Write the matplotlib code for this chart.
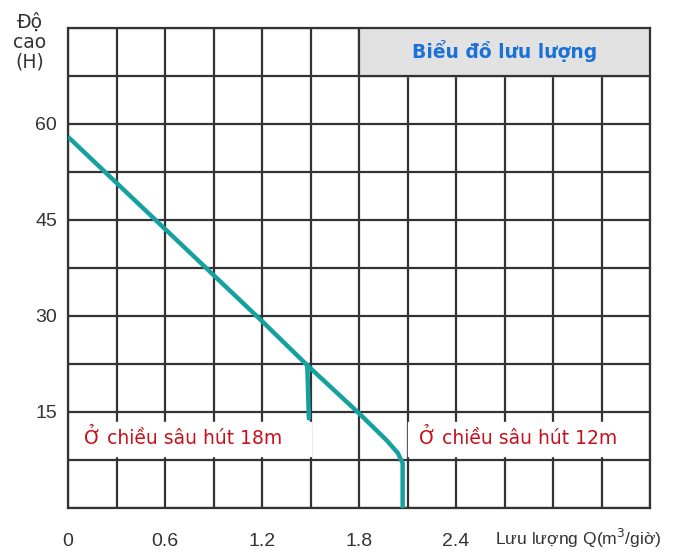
import matplotlib
matplotlib.use("Agg")
import matplotlib.pyplot as plt
import numpy as np

# dữ liệu
flow_main = [0.0, 0.6, 1.2, 1.48, 1.8, 1.97, 2.04, 2.07, 2.07]
head_main = [58.0, 43.6, 29.2, 22.3, 14.8, 10.6, 8.6, 7.0, 0.0]
flow_18m = [1.48, 1.49]
head_18m = [22.3, 14.0]

x_ticks = [0, 0.6, 1.2, 1.8, 2.4]
x_tick_labels = ["0", "0.6", "1.2", "1.8", "2.4"]
y_ticks = [15, 30, 45, 60]
y_tick_labels = ["15", "30", "45", "60"]

TEAL = "#17a0a0"
RED = "#c8101a"
BLUE = "#1a72d8"
GRID = "#333333"
plt.rcParams["font.family"] = ["Liberation Sans", "DejaVu Sans"]

fig = plt.figure(figsize=(6.77, 5.53), dpi=100)
ax = fig.add_axes([68 / 677, 1 - 508 / 553, 582 / 677, 480 / 553])
ax.set_xlim(0, 3.6)
ax.set_ylim(0, 75)

# lưới
for gx in np.arange(0, 3.61, 0.3):
    ax.axvline(gx, color=GRID, lw=1.6, zorder=1)
for gy in np.arange(0, 75.1, 7.5):
    ax.axhline(gy, color=GRID, lw=1.6, zorder=1)
for s in ax.spines.values():
    s.set_color(GRID)
    s.set_linewidth(1.6)

# ô tiêu đề
ax.fill_between([1.8, 3.6], 67.5, 75, color="#e2e2e2", zorder=2)
ax.plot([1.8, 1.8, 3.6], [75, 67.5, 67.5], color=GRID, lw=1.6, zorder=3)
ax.text(2.7, 71.4, "Biểu đồ lưu lượng", color=BLUE, fontsize=13.5,
        fontweight="bold", ha="center", va="center", zorder=4,
        family="DejaVu Sans")

# đường cong
ax.plot(flow_main, head_main, color=TEAL, lw=3.2, zorder=5,
        solid_capstyle="butt", solid_joinstyle="round")
ax.plot(flow_18m, head_18m, color=TEAL, lw=3.2, zorder=5,
        solid_capstyle="round")

# nhãn độ sâu
ax.fill_between([0.03, 1.5], 8.2, 13.4, color="white", zorder=2)
ax.fill_between([2.1, 3.57], 8.2, 13.4, color="white", zorder=2)
ax.text(0.1, 11.0, "Ở chiều sâu hút 18m", color=RED, fontsize=13.5,
        ha="left", va="center", zorder=4, family="DejaVu Sans")
ax.text(2.17, 11.0, "Ở chiều sâu hút 12m", color=RED, fontsize=13.5,
        ha="left", va="center", zorder=4, family="DejaVu Sans")

ax.set_xticks(x_ticks)
ax.set_xticklabels(x_tick_labels)
ax.set_yticks(y_ticks)
ax.set_yticklabels(y_tick_labels)
ax.tick_params(length=0, labelsize=14, colors="#333333")
ax.tick_params(axis="x", pad=18)
ax.tick_params(axis="y", pad=8)

fig.text(30 / 677, 1 - 42 / 553, "Độ\ncao\n(H)", fontsize=13.5, color="#333333",
         ha="center", va="center", linespacing=1.05, family="DejaVu Sans")
fig.text(495 / 677, 1 - 538 / 553, "Lưu lượng Q(m$^3$/giờ)", fontsize=12.6,
         color="#333333", ha="left", va="center")

fig.savefig("out.png", dpi=100)
